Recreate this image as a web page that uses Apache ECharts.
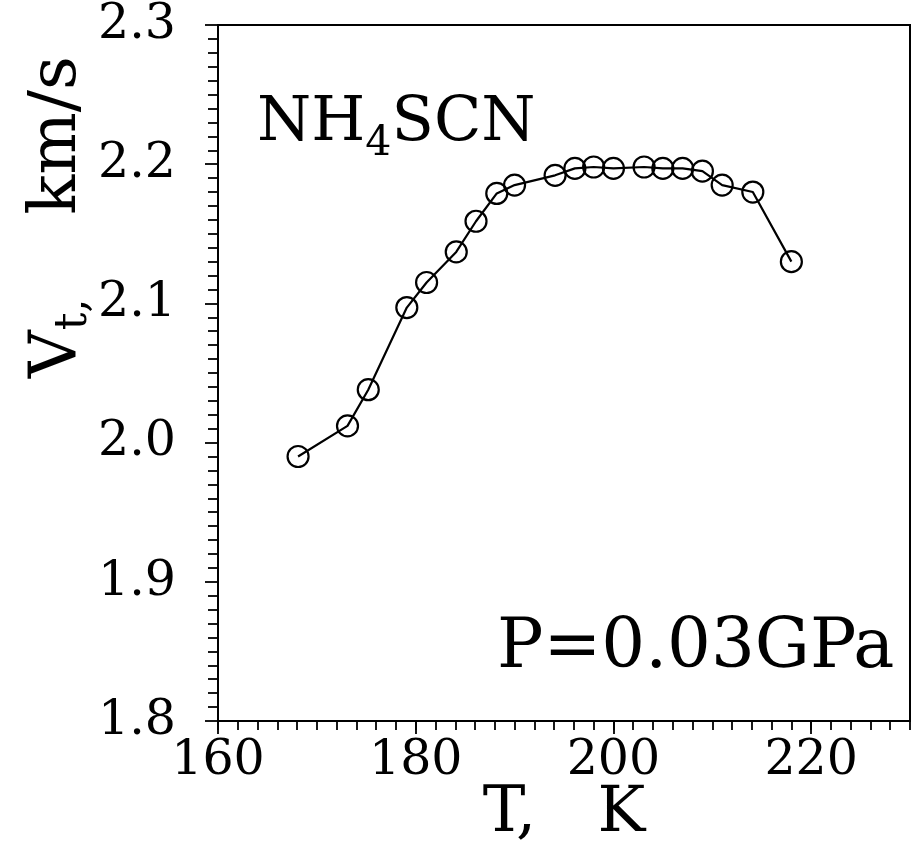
<!DOCTYPE html>
<html>
<head>
<meta charset="utf-8">
<script src="https://cdn.jsdelivr.net/npm/echarts@6/dist/echarts.min.js"></script>
<style>html,body{margin:0;padding:0;background:#fff;}#c{width:920px;height:842px;}</style>
</head>
<body>
<div id="c"></div>
<script>
// Temperature, K
var temps = [168.1, 173.1, 175.2, 179.1, 181.1, 184.1, 186.1, 188.2, 190.0, 194.1, 196.1, 198.0, 200.0, 203.1, 205.0, 207.0, 209.0, 211.0, 214.1, 218.0];
// Transverse velocity Vt, km/s
var velocities = [1.990, 2.012, 2.038, 2.097, 2.115, 2.137, 2.159, 2.179, 2.185, 2.192, 2.197, 2.198, 2.197, 2.198, 2.197, 2.197, 2.195, 2.185, 2.180, 2.130];
var xTicks = [160, 180, 200, 220];
var yTicks = [1.8, 1.9, 2.0, 2.1, 2.2, 2.3];
var compoundLabel = ['NH', '4', 'SCN'];
var pressureLabel = 'P=0.03GPa';
var xName = 'T,   K';
var yNameParts = ['V', 't,', '    km/s'];

var FONT = 'DejaVu Serif';
var points = temps.map(function (t, i) { return [t, velocities[i]]; });

var chart = echarts.init(document.getElementById('c'), null, { renderer: 'canvas' });
chart.setOption({
  animation: false,
  backgroundColor: '#fff',
  grid: { left: 218, right: 10, top: 25, bottom: 121, containLabel: false, outerBoundsMode: 'none',
    show: true, borderColor: '#000', borderWidth: 2, backgroundColor: 'transparent' },
  xAxis: [{
    type: 'value', position: 'bottom', min: 160, max: 230, interval: 20,
    name: xName, nameLocation: 'middle', nameGap: 61, nameMoveOverlap: false,
    nameTextStyle: { fontFamily: FONT, fontSize: 64, color: '#000' },
    axisLine: { show: true, lineStyle: { color: '#000', width: 2 } },
    axisTick: { show: true, length: 13, lineStyle: { color: '#000', width: 1.8 } },
    axisLabel: { show: true, margin: 16, fontFamily: FONT, fontSize: 49, color: '#000', showMaxLabel: false,
      formatter: function (v) { return xTicks.indexOf(v) >= 0 ? String(v) : ''; } },
    splitLine: { show: false }
  }, {
    type: 'value', position: 'bottom', min: 160, max: 230, interval: 2,
    axisLine: { show: false },
    axisTick: { show: true, length: 9, lineStyle: { color: '#000', width: 1.8 } },
    axisLabel: { show: false },
    splitLine: { show: false }
  }],
  yAxis: [{
    type: 'value', min: 1.8, max: 2.3, interval: 0.1,
    axisLine: { show: true, lineStyle: { color: '#000', width: 2 } },
    axisTick: { show: true, length: 13, lineStyle: { color: '#000', width: 1.8 } },
    minorTick: { show: true, splitNumber: 10, length: 10, lineStyle: { color: '#000', width: 1.8 } },
    axisLabel: { show: true, margin: 42, fontFamily: FONT, fontSize: 49, color: '#000',
      formatter: function (v) {
        for (var i = 0; i < yTicks.length; i++) { if (Math.abs(yTicks[i] - v) < 1e-6) return yTicks[i].toFixed(1); }
        return '';
      } },
    splitLine: { show: false }
  }],
  series: [{
    type: 'line', xAxisIndex: 0, yAxisIndex: 0,
    data: points,
    symbol: 'circle', symbolSize: 21,
    itemStyle: { color: 'rgba(0,0,0,0)', borderColor: '#000', borderWidth: 2.2 },
    lineStyle: { color: '#000', width: 2.2 },
    emphasis: { disabled: true }
  }],
  graphic: [{
    type: 'text', x: 97, y: 217, rotation: Math.PI / 2,
    style: {
      text: '{a|' + yNameParts[0] + '}{b|' + yNameParts[1] + '}{a|' + yNameParts[2] + '}',
      align: 'center', verticalAlign: 'bottom',
      rich: {
        a: { fontFamily: FONT, fontSize: 66, fill: '#000', verticalAlign: 'bottom', padding: [0, 0, 6, 0] },
        b: { fontFamily: FONT, fontSize: 44, fill: '#000', verticalAlign: 'bottom' }
      }
    }
  }, {
    type: 'text', x: 257, y: 165,
    style: {
      text: '{a|' + compoundLabel[0] + '}{b|' + compoundLabel[1] + '}{a|' + compoundLabel[2] + '}',
      align: 'left', verticalAlign: 'bottom',
      rich: {
        a: { fontFamily: FONT, fontSize: 62, fill: '#000', verticalAlign: 'bottom', padding: [0, 0, 10, 0] },
        b: { fontFamily: FONT, fontSize: 41, fill: '#000', verticalAlign: 'bottom' }
      }
    }
  }, {
    type: 'text', x: 497, y: 684,
    style: { text: pressureLabel, fontFamily: FONT, fontSize: 69, fill: '#000', align: 'left', verticalAlign: 'bottom' }
  }]
});
</script>
</body>
</html>
